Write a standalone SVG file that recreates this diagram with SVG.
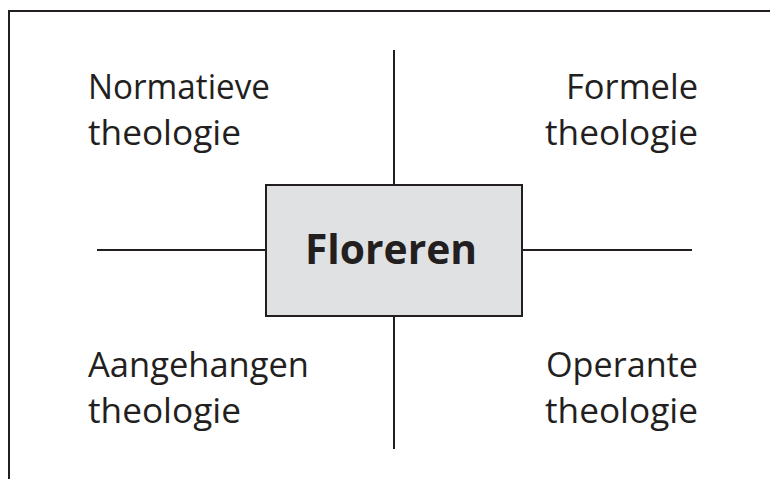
<svg xmlns="http://www.w3.org/2000/svg" width="770" height="479" viewBox="0 0 770 479">
<style>
.lbl{font-family:"Open Sans","Noto Sans",sans-serif;font-size:34px;fill:#231f20}
.r{text-anchor:end}
.ctr{font-family:"Open Sans","Noto Sans",sans-serif;font-size:41px;font-weight:bold;fill:#231f20;text-anchor:middle}
.ln{stroke:#231f20;stroke-width:2;fill:none}
</style>
<rect width="770" height="479" fill="#fff"/>
<path class="ln" d="M9,479 V11 H770" stroke-width="2.5"/>
<g id="connectors">
<line class="ln" x1="97" y1="250" x2="692" y2="250"/>
<line class="ln" x1="394" y1="50" x2="394" y2="449"/>
</g>
<g id="floreren">
<rect x="266" y="185" width="256" height="131" fill="#e0e1e3" stroke="#231f20" stroke-width="2"/>
<text class="ctr" x="391" y="264" textLength="172" lengthAdjust="spacingAndGlyphs">Floreren</text>
</g>
<g id="normatieve"><text class="lbl" x="88" y="99" textLength="182" lengthAdjust="spacingAndGlyphs">Normatieve</text><text class="lbl" x="88" y="145" textLength="153" lengthAdjust="spacingAndGlyphs">theologie</text></g>
<g id="formele"><text class="lbl r" x="698" y="99" textLength="132" lengthAdjust="spacingAndGlyphs">Formele</text><text class="lbl r" x="698" y="145" textLength="153" lengthAdjust="spacingAndGlyphs">theologie</text></g>
<g id="aangehangen"><text class="lbl" x="88" y="377" textLength="221" lengthAdjust="spacingAndGlyphs">Aangehangen</text><text class="lbl" x="88" y="423" textLength="153" lengthAdjust="spacingAndGlyphs">theologie</text></g>
<g id="operante"><text class="lbl r" x="698" y="377" textLength="152" lengthAdjust="spacingAndGlyphs">Operante</text><text class="lbl r" x="698" y="423" textLength="153" lengthAdjust="spacingAndGlyphs">theologie</text></g>
</svg>
